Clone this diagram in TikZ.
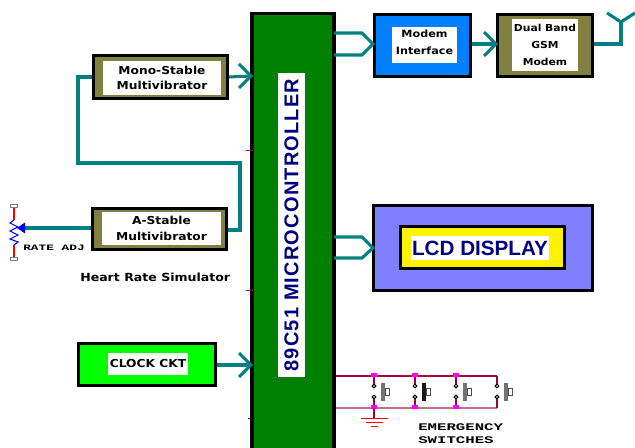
\documentclass[tikz,border=0pt]{standalone}
\usepackage{fontspec}
\usetikzlibrary{calc}
\setmainfont[FakeStretch=1.12]{DejaVu Sans}
\newfontfamily\arialb{Liberation Sans}
\newfontfamily\arialsp[LetterSpace=6]{Liberation Sans}
\newfontfamily\monob[FakeStretch=1.55]{Liberation Mono}
\definecolor{wire}{HTML}{008080}
\definecolor{olivebox}{HTML}{808040}
\definecolor{chipgreen}{HTML}{008000}
\definecolor{modemblue}{HTML}{0080FF}
\definecolor{lcdblue}{HTML}{8080FF}
\definecolor{clockgreen}{HTML}{00FF00}
\definecolor{navytext}{HTML}{000080}
\definecolor{swred}{HTML}{A00040}
\definecolor{swpink}{HTML}{C07090}
\definecolor{dotpink}{HTML}{FF00FF}
\definecolor{potblue}{HTML}{0000FF}
\tikzset{
  px/.style={x=0.75pt,y=-0.75pt},
  wirel/.style={draw=wire,line width=2.3pt,line join=miter},
  lab/.style={fill=white,inner sep=0pt,align=center,font=\bfseries\fontsize{8.2}{11.4}\selectfont,text=black},
  biglab/.style={fill=white,inner sep=0pt,text=navytext,font=\arialb\bfseries\fontsize{15.5}{16}\selectfont},
  swtop/.style={draw=swred,line width=1.2pt},
  swbot/.style={draw=swpink,line width=1.6pt},
  swv/.style={draw=swred,line width=1.6pt},
  pad/.style={draw=black!50,fill=white,line width=0.7pt,minimum width=5pt,minimum height=2.8pt,inner sep=0pt},
  dot/.style={rectangle,fill=dotpink,inner sep=0pt,minimum width=4pt,minimum height=3pt},
  cont/.style={circle,draw=black,fill=white,line width=0.9pt,inner sep=0pt,minimum size=2.8pt},
  small/.style={font=\monob\bfseries\fontsize{7.6}{10.2}\selectfont,align=left,inner sep=0pt,anchor=west},
  tick/.style={draw=swred,line width=0.7pt}
}
\newcommand{\frameblock}[6]{%
  \node[draw=black,line width=2.4pt,fill=#6,inner sep=0pt,
    minimum width={(#4-#2-3)*0.75pt},minimum height={(#5-#3-3)*0.75pt}] (#1) at ({(#2+#4)/2},{(#3+#5)/2}) {};}
\newcommand{\chev}[1]{\draw[wirel] ($(#1)+(-12,-12)$) -- (#1) -- ($(#1)+(-12,12)$);}
\newcommand{\pushbtn}[3]{% x, name, fill
  \node[cont] (#2a) at (#1,386) {};
  \node[cont] (#2b) at (#1,397) {};
  \fill[#3] ({#1+7},383) rectangle ({#1+11},401);
  \draw[black!70,line width=0.6pt] ({#1+11},388) rectangle ({#1+15},395);
}
\begin{document}
\begin{tikzpicture}[px]
\useasboundingbox (0,0) rectangle (635,448);
\fill[white] (0,0) rectangle (635,448);
% chip
\fill[black] (250,12) rectangle (336,448);
\fill[chipgreen] (254,15) rectangle (332,448);
\node[fill=white,rotate=90,inner sep=0pt,minimum width=228pt,minimum height=20pt,text=navytext,font=\arialsp\bfseries\fontsize{15}{15}\selectfont] (chiplab) at (291.500,225) {89C51 MICROCONTROLLER};
\coordinate (chipW1) at (251,76);
\coordinate (chipW2) at (251,365);
\coordinate (chipE1a) at (334,33);
\coordinate (chipE1b) at (334,55);
\coordinate (chipE2a) at (334,237);
\coordinate (chipE2b) at (334,258);
\coordinate (chipE3a) at (336,376);
\coordinate (chipE3b) at (336,408);
% blocks
\frameblock{mono}{92}{54}{229}{100}{olivebox}
\node[lab,minimum width=88.5pt,minimum height=25.5pt] (monolab) at (162,78) {Mono-Stable\\Multivibrator};
\frameblock{astable}{91}{207}{228}{251}{olivebox}
\node[lab,minimum width=89pt,minimum height=25pt] (astablelab) at (161.500,228.500) {A-Stable\\Multivibrator};
\frameblock{clock}{77}{342}{217}{387}{clockgreen}
\node[lab,minimum width=60pt,minimum height=16.500pt] (clocklab) at (148,364) {CLOCK CKT};
\frameblock{modem}{373}{13}{472}{78}{modemblue}
\fill[white] (392,27) rectangle (457,63);
\node[inner sep=0pt,align=center,font=\bfseries\fontsize{7.5}{12.8}\selectfont] (modemlab) at (424.500,42) {Modem\\Interface};
\frameblock{gsm}{496}{13}{594}{78}{olivebox}
\node[lab,minimum width=49.5pt,minimum height=39pt,font=\bfseries\fontsize{7.2}{12.8}\selectfont] (gsmlab) at (545,45) {Dual Band\\GSM\\Modem};
\frameblock{lcd}{372}{204}{594}{292}{lcdblue}
\node[draw=black,line width=2.4pt,fill=yellow,inner sep=0pt,minimum width=123pt,minimum height=31.5pt] (lcdin) at (482.500,247.500) {};
\node[biglab,minimum width=103.5pt,minimum height=18pt] (lcdlab) at (480,248) {LCD DISPLAY};
% connectors
\draw[wirel] (mono.east) -- (chipW1);
\chev{chipW1}
\coordinate (loopTop) at (78,77);
\coordinate (loopL) at (78,163);
\coordinate (loopR) at (240,163);
\coordinate (loopB) at (240,230);
\draw[wirel] (mono.west |- loopTop) -- (loopTop) -- (loopL) -- (loopR) -- (loopB);
\draw[wirel] (astable.east |- loopB) -- (242,230);
\draw[wirel] (clock.east |- chipW2) -- (chipW2);
\chev{chipW2}
\coordinate (mTip) at (373,44);
\draw[wirel] (chipE1a) -- (362,33) -- (mTip) -- (362,55) -- (chipE1b);
\coordinate (lTip) at (373,248);
\draw[wirel] (chipE2a) -- (362,237) -- (lTip) -- (362,258) -- (chipE2b);
\coordinate (gTip) at (496,44);
\draw[wirel] (modem.east |- gTip) -- (gTip);
\chev{gTip}
\coordinate (antBase) at (621,44);
\coordinate (antHub) at (621,22);
\coordinate (antL) at (607,13);
\coordinate (antR) at (635,13);
\draw[wirel] (gsm.east |- antBase) -- (antBase) -- (antHub);
\draw[wirel] (antL) -- (antHub) -- (antR);
% potentiometer
\node[pad] (padT) at (14,206) {};
\node[pad] (padB) at (14,259) {};
\coordinate (potTop) at (14,220);
\coordinate (potBot) at (14,245);
\draw[red,line width=0.9pt] (padT) -- (potTop);
\draw[red,line width=0.9pt] (potBot) -- (padB);
\draw[potblue,line width=0.8pt] (potTop) -- (10,223) -- (18,227) -- (10,231) -- (18,235) -- (10,239) -- (18,242) -- (potBot);
\coordinate (wiper) at (17,228);
\draw[wire,line width=2.4pt] (astable.west |- wiper) -- (24,228);
\fill[potblue] (wiper) -- (25,222.500) -- (25,233.500) -- cycle;
\node[small,font=\monob\bfseries\fontsize{6.2}{7}\selectfont] (ratelab) at (23,248) {RATE ADJ};
\node[inner sep=0pt,anchor=west,font=\bfseries\fontsize{8.4}{10}\selectfont] (hrs) at (80,277) {Heart Rate Simulator};
% switches
\coordinate (tEnd) at (497,376);
\coordinate (bEnd) at (497,408);
\draw[swtop] (chipE3a) -- (tEnd);
\draw[swbot] (chipE3b) -- (bEnd);
\pushbtn{374}{swa}{black!55}
\pushbtn{415}{swb}{black!90}
\pushbtn{456}{swc}{black!55}
\pushbtn{497}{swd}{black!55}
\foreach \n/\x in {swa/374,swb/415,swc/456,swd/497}{
  \draw[swv] (\x,376) -- (\n a);
  \draw[swv] (\n b) -- (\x,408);
}
\foreach \x in {374,415,456}{
  \node[dot] at (\x,375) {};
  \node[dot] at (\x,407.500) {};
}
\coordinate (gnd) at (374,418);
\draw[swv] (374,408) -- (gnd);
\draw[red,line width=0.7pt] (361,418) -- (388,418);
\draw[red,line width=0.7pt] (366,422) -- (383,422);
\draw[red,line width=0.7pt] (371,426) -- (378,426);
\node[small] (emerg) at (418,433.500) {EMERGENCY\\SWITCHES};
% small pin marks
\draw[tick] (246,150) -- (253,150);
\draw[tick] (246,290) -- (253,290);
\draw[tick] (248,418) -- (250,418);
\end{tikzpicture}
\end{document}
